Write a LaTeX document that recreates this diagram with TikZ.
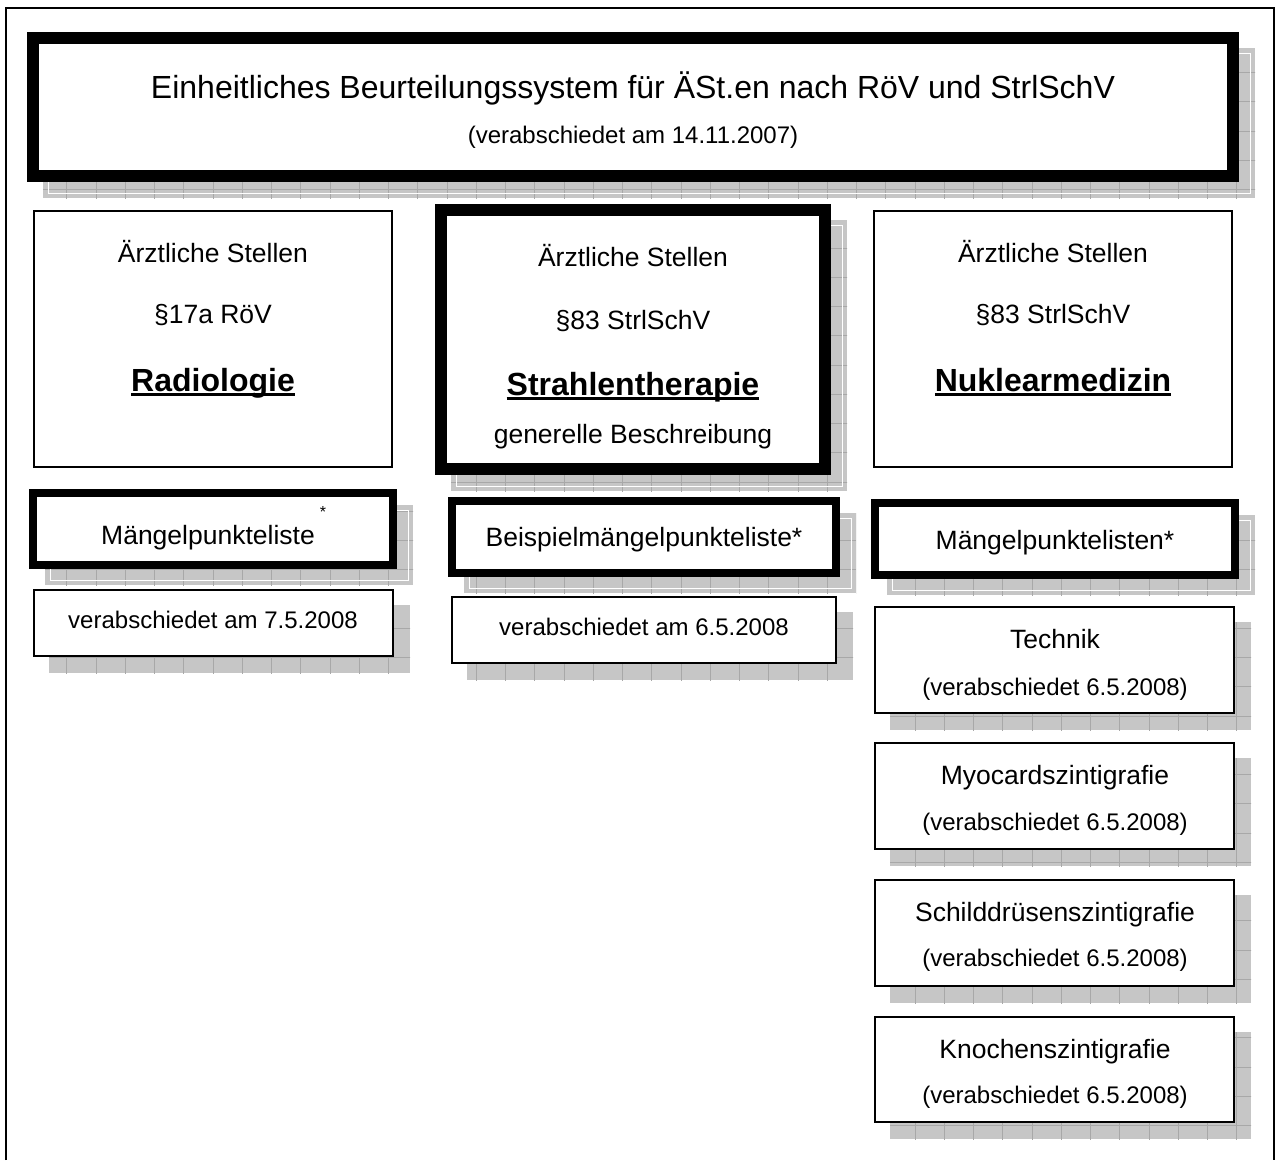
\documentclass[tikz,border=0pt]{standalone}
\usepackage{fontspec}
\setmainfont{Liberation Sans}
\definecolor{shfill}{HTML}{C6C6C6}
\definecolor{shline}{HTML}{A8A8A8}
% #1 name, #2 line width, #3 x1, #4 y1, #5 x2, #6 y2 (pixels, y downward), #7 white inset line (1/0), #8 shadow (1/0)
\newcommand\shbox[8]{%
 \ifnum#8=1
 \fill[shfill] ({#3+16},{-(#4)-16}) rectangle ({#5+16},{-(#6)-16});
 \begin{scope}
  \clip ({#3+16},{-(#4)-16}) rectangle ({#5+16},{-(#6)-16});
  \begin{scope}[shift={(8.25,-14)}]
   \draw[shline, line width=1, step=29.25] (-20,20) grid (1300,-1180);
  \end{scope}
 \end{scope}
 \fi
 \ifnum#7=1 \draw[white, line width=1] ({#3+21},{-(#4)-21}) rectangle ({#5+11},{-(#6)-11});\fi
 \node[draw, fill=white, line width=#2, inner sep=0, minimum width={#5-#3-#2}, minimum height={#6-#4-#2}] (#1) at ({(#3+#5)/2},{-(#4+#6)/2}) {};
}
\newcommand\ulbf[1]{\setbox0\hbox{#1}\rlap{\rule[-5pt]{\wd0}{3pt}}\box0}
\tikzset{
 ttl/.style={font=\fontsize{32}{36}\selectfont, anchor=base, inner sep=0},
 tx/.style={font=\fontsize{26.5}{30}\selectfont, anchor=base, inner sep=0},
 ts/.style={font=\fontsize{24}{28}\selectfont, anchor=base, inner sep=0},
 tb/.style={font=\fontsize{32}{36}\selectfont\bfseries, anchor=base, inner sep=0},
}
\begin{document}
\begin{tikzpicture}[x=1pt,y=1pt]
\useasboundingbox (0,0) rectangle (1277,-1160);
\fill[white] (0,0) rectangle (1277,-1160);
\draw[line width=2.5] (6,-1160) -- (6,-8) -- (1274,-8) -- (1274,-1160);

% boxes
\shbox{titlebox}{12}{27}{32}{1239}{182}{1}{1}
\shbox{radbox}{2}{33}{210}{393}{468}{0}{0}
\shbox{strbox}{12}{435}{204}{831}{475}{1}{1}
\shbox{nukbox}{2}{873}{210}{1233}{468}{0}{0}
\shbox{radmpl}{8}{29}{489}{397}{569}{1}{1}
\shbox{strmpl}{8}{448}{497}{840}{577}{1}{1}
\shbox{nukmpl}{8}{871}{499}{1239}{579}{1}{1}
\shbox{radver}{2}{33}{589}{394}{657}{0}{1}
\shbox{strver}{2}{451}{596}{837}{664}{0}{1}
\shbox{nuktech}{2}{874}{606}{1235}{714}{0}{1}
\shbox{nukmyo}{2}{874}{742}{1235}{850}{0}{1}
\shbox{nukschild}{2}{874}{879}{1235}{987}{0}{1}
\shbox{nukknoch}{2}{874}{1016}{1235}{1123}{0}{1}

% texts
\node[ttl] (title) at (633,-98) {Einheitliches Beurteilungssystem für ÄSt.en nach RöV und StrlSchV};
\node[ts] (titlesub) at (633,-143) {(verabschiedet am 14.11.2007)};

\node[tx] (rad1) at (213,-262) {Ärztliche Stellen};
\node[tx] (rad2) at (213,-323) {§17a RöV};
\node[tb] (rad3) at (213,-391) {\ulbf{Radiologie}};

\node[tx] (str1) at (633,-266) {Ärztliche Stellen};
\node[tx] (str2) at (633,-329) {§83 StrlSchV};
\node[tb] (str3) at (633,-395) {\ulbf{Strahlentherapie}};
\node[tx] (str4) at (633,-443) {generelle Beschreibung};

\node[tx] (nuk1) at (1053,-262) {Ärztliche Stellen};
\node[tx] (nuk2) at (1053,-323) {§83 StrlSchV};
\node[tb] (nuk3) at (1053,-391) {\ulbf{Nuklearmedizin}};

\node[tx] (radmpltx) at (208,-544) {Mängelpunkteliste\rlap{\hspace{5pt}\raisebox{27pt}{\fontsize{16}{16}\selectfont *}}};
\node[tx] (strmpltx) at (644,-546) {Beispielmängelpunkteliste*};
\node[tx] (nukmpltx) at (1055,-549) {Mängelpunktelisten*};

\node[ts] (radvertx) at (213,-628) {verabschiedet am 7.5.2008};
\node[ts] (strvertx) at (644,-635) {verabschiedet am 6.5.2008};

\node[tx] (tech1) at (1055,-648) {Technik};
\node[ts] (tech2) at (1055,-695) {(verabschiedet 6.5.2008)};
\node[tx] (myo1) at (1055,-784) {Myocardszintigrafie};
\node[ts] (myo2) at (1055,-830) {(verabschiedet 6.5.2008)};
\node[tx] (sch1) at (1055,-921) {Schilddrüsenszintigrafie};
\node[ts] (sch2) at (1055,-966) {(verabschiedet 6.5.2008)};
\node[tx] (kno1) at (1055,-1058) {Knochenszintigrafie};
\node[ts] (kno2) at (1055,-1103) {(verabschiedet 6.5.2008)};
\end{tikzpicture}
\end{document}
